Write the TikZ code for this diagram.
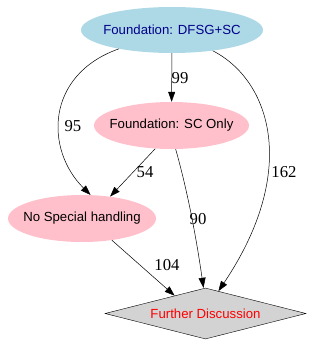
\documentclass[tikz,border=0pt]{standalone}
\usepackage{fontspec}
\setmainfont{Liberation Serif}
\newfontfamily\nodefont{Liberation Sans}
\usetikzlibrary{shapes.geometric,arrows.meta}
\definecolor{lblue}{HTML}{ADD8E6}
\definecolor{lpink}{HTML}{FFC0CB}
\definecolor{lgray}{HTML}{D3D3D3}
\definecolor{dblue}{HTML}{00008B}
\begin{document}
\begin{tikzpicture}[x=1pt,y=-1pt,
  ell/.style={ellipse,inner xsep=-30pt,inner ysep=0pt,font=\nodefont\fontsize{13.2}{15}\selectfont},
  dia/.style={diamond,draw=black,fill=lgray,aspect=3.9,inner sep=0pt,minimum width=201pt,minimum height=51pt,text=red,font=\nodefont\fontsize{13.2}{15}\selectfont},
  edge/.style={draw=black,line width=0.5pt,-{Triangle[length=10pt,width=7pt]}},
  lab/.style={font=\fontsize{16.7}{19}\selectfont,inner sep=0pt}]
\useasboundingbox (0,0) rectangle (324,346);
\node[ell,fill=lblue,text=dblue,minimum width=182pt,minimum height=46pt] (dfsg) at (172,30) {Foundation: DFSG+SC};
\node[ell,fill=lpink,minimum width=155pt,minimum height=47pt] (sc) at (171.5,125.5) {Foundation: SC Only};
\node[ell,fill=lpink,minimum width=148pt,minimum height=47pt] (nsh) at (82,218.5) {No Special handling};
\node[dia] (fd) at (205.5,313.5) {Further Discussion};
\draw[edge] (dfsg) -- (sc);
\draw[edge] (dfsg) .. controls (45,75) and (45,150) .. (nsh.70);
\draw[edge] (sc.235) -- (nsh.38);
\draw[edge] (sc.280) .. controls (190,200) and (198,250) .. ([xshift=-2pt]fd.north);
\draw[edge] (dfsg.-27) .. controls (270,80) and (300,170) .. (fd.60);
\draw[edge] (nsh.-36) -- (fd.150);
\node[lab] (l99) at (180,78) {99};
\node[lab] (l95) at (73,126) {95};
\node[lab] (l54) at (145,172) {54};
\node[lab] (l90) at (198,219) {90};
\node[lab] (l162) at (284,172) {162};
\node[lab] (l104) at (167,265) {104};
\end{tikzpicture}
\end{document}
